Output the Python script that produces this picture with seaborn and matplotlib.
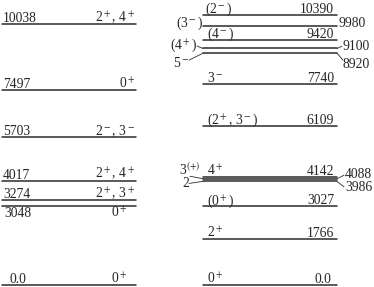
import matplotlib
matplotlib.use('Agg')
import matplotlib.pyplot as plt
import seaborn as sns
import pandas as pd

sns.set_theme(style='white')
plt.rcParams['font.family'] = ['Liberation Serif', 'DejaVu Serif']
plt.rcParams['mathtext.fontset'] = 'stix'

# left column: level energies (keV) and spins
left_energy = [0.0, 3048, 3274, 4017, 5703, 7497, 10038]
left_text = ['0.0', '3048', '3274', '4017', '5703', '7497', '10038']
left_spin = ['0$^+$', '0$^+$', '2$^+$, 3$^+$', '2$^+$, 4$^+$',
             '2$^-$, 3$^-$', '0$^+$', '2$^+$, 4$^+$']

# right column
right_energy = [0.0, 1766, 3027, 3986, 4088, 4142, 6109, 7740,
                8920, 9100, 9420, 9980, 10390]
right_text = ['0.0', '1766', '3027', '3986', '4088', '4142', '6109', '7740',
              '8920', '9100', '9420', '9980', '10390']
right_spin = ['0$^+$', '2$^+$', '(0$^+$)', '2', '3$^{(+)}$', '4$^+$',
              '(2$^+$, 3$^-$)', '3$^-$', '5$^-$', '(4$^+$)', '(4$^-$)',
              '(3$^-$)', '(2$^-$)']

K = 0.02599  # pixels per keV
FS = 9.8
LC = '#2b2b2b'


def d(px):
    # pixel offset -> energy offset
    return px / K


fig = plt.figure(figsize=(3.74, 2.87), dpi=100)
ax = fig.add_axes([0, 0, 1, 1])

rows = []
for i, e in enumerate(left_energy):
    rows += [('L%d' % i, 2, e), ('L%d' % i, 136, e)]
for i, e in enumerate(right_energy):
    rows += [('R%d' % i, 203, e), ('R%d' % i, 337, e)]
df = pd.DataFrame(rows, columns=['id', 'x', 'E'])
sns.lineplot(data=df, x='x', y='E', units='id', estimator=None, sort=False,
             color=LC, lw=1.1, legend=False, ax=ax)

# left labels
for e, t, s in zip(left_energy, left_text, left_spin):
    y = e + d(2)
    xt, xs = 3, 135
    if t == '3048':
        y = e - d(11)
        xt, xs = 4, 127
    if t == '0.0':
        xt, xs = 10, 127
    ax.text(xt, y, t, ha='left', va='baseline', fontsize=FS)
    ax.text(xs, y, s, ha='right', va='baseline', fontsize=FS)

# right labels: inside ones
inside = ['0.0', '1766', '3027', '4142', '6109', '7740', '9420', '10390']
for e, t, s in zip(right_energy, right_text, right_spin):
    if t not in inside:
        continue
    y = e + d(2)
    xs = 205 if t == '10390' else 207
    xt = 331 if t == '0.0' else 334
    ax.text(xt, y, t, ha='right', va='baseline', fontsize=FS)
    ax.text(xs, y, s, ha='left', va='baseline', fontsize=FS)

# right labels: outside ones, with short connectors
# (energy label x, dy, connector end x, dy), (spin label x, dy, connector start x, dy)
outside = {
    '9980': ((339, -1, None, None), (203, -1, None, None)),
    '9100': ((343, -1.5, 342, 2.3), (197, -0.5, 197, 2.5)),
    '8920': ((343, -15, 343, -7), (189, -14, 189, -7)),
    '4088': ((345, 0.8, 344, 3.5), (200, 4, 190, 2.5)),
    '3986': ((345, -10, 344, -5.5), (189, -5.5, 189, -2.0)),
}
for e, t, s in zip(right_energy, right_text, right_spin):
    if t not in outside:
        continue
    (ex, ey, ecx, ecy), (sx, sy, scx, scy) = outside[t]
    ax.text(ex, e + d(ey), t, ha='left', va='baseline', fontsize=FS)
    ax.text(sx, e + d(sy), s, ha='right', va='baseline', fontsize=FS)
    if ecx is not None:
        ax.plot([337, ecx], [e, e + d(ecy)], color=LC, lw=0.6)
    if scx is not None:
        ax.plot([scx, 203], [e + d(scy), e], color=LC, lw=0.6)

ax.set_xlim(0, 374)
ax.set_ylim(-d(2), d(285))
ax.axis('off')

fig.savefig('out.png', dpi=100)
